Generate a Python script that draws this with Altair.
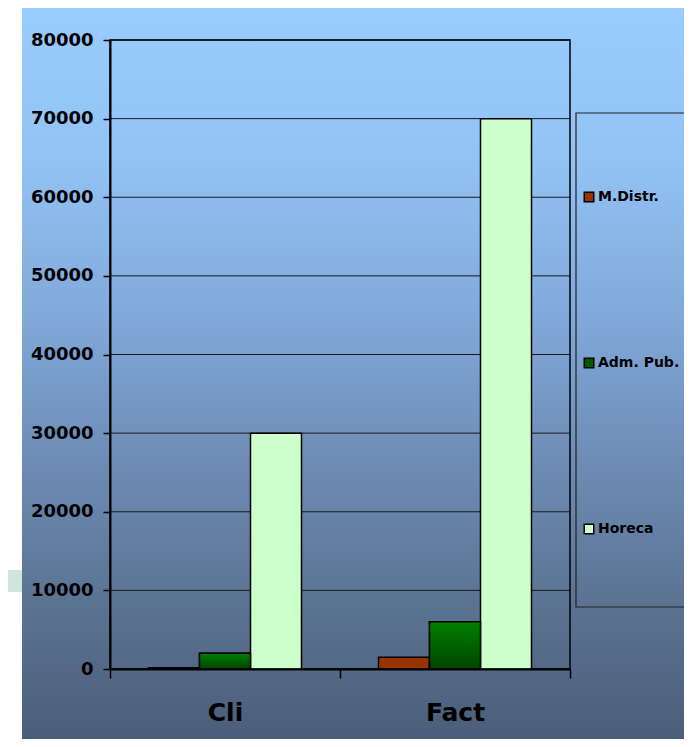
import altair as alt
import pandas as pd

categories = ["Cli", "Fact"]
series = ["M.Distr.", "Adm. Pub.", "Horeca"]
cli_values = [150, 2000, 30000]
fact_values = [1500, 6000, 70000]
y_ticks = [0, 10000, 20000, 30000, 40000, 50000, 60000, 70000, 80000]
series_colors = ["#993300", "#005a00", "#CCFFCC"]

rows = []
for cat, vals in zip(categories, [cli_values, fact_values]):
    for s, v in zip(series, vals):
        rows.append({"category": cat, "series": s, "value": v})
df = pd.DataFrame(rows)
grid_df = pd.DataFrame({"v": y_ticks})
one = pd.DataFrame({"k": [0]})

FONT = "DejaVu Sans"

bg_grad = alt.Gradient(
    gradient="linear", x1=0, x2=0, y1=0, y2=1,
    stops=[
        alt.GradientStop(color="#99CCFF", offset=0),
        alt.GradientStop(color="#93C3F5", offset=0.2),
        alt.GradientStop(color="#82AADC", offset=0.41),
        alt.GradientStop(color="#6E8DB6", offset=0.61),
        alt.GradientStop(color="#5A7291", offset=0.815),
        alt.GradientStop(color="#4A5D78", offset=1),
    ],
)
green_grad = alt.Gradient(
    gradient="linear", x1=0, x2=0, y1=0, y2=1,
    stops=[
        alt.GradientStop(color="#008000", offset=0),
        alt.GradientStop(color="#004400", offset=1),
    ],
)

background = alt.Chart(one).mark_rect(fill=bg_grad, strokeWidth=0).encode(
    x=alt.value(-88), x2=alt.value(600), y=alt.value(-34), y2=alt.value(707)
)
deco = alt.Chart(one).mark_rect(fill="#D0E5DC", strokeWidth=0).encode(
    x=alt.value(-102), x2=alt.value(-88), y=alt.value(530), y2=alt.value(552)
)

yscale = alt.Scale(domain=[0, 80000], nice=False)

grid = alt.Chart(grid_df).mark_rule(color="#1a1a1a", strokeWidth=1).encode(
    y=alt.Y("v:Q", scale=yscale)
)

frame = alt.Chart(one).mark_rect(fill=None, stroke="black", strokeWidth=1.5).encode(
    x=alt.value(0), x2=alt.value("width"), y=alt.value(0), y2=alt.value("height")
)

xenc = alt.X(
    "category:N",
    sort=categories,
    scale=alt.Scale(paddingInner=0, paddingOuter=0),
    axis=alt.Axis(
        title=None, labelAngle=0, labelFont=FONT, labelFontWeight="bold",
        labelFontSize=25, labelColor="black", labelPadding=22,
        tickBand="extent", tickSize=9, tickColor="black", tickWidth=1.5,
        domainColor="black", domainWidth=2, grid=False, zindex=1,
    ),
)
yenc = alt.Y(
    "value:Q",
    scale=yscale,
    axis=alt.Axis(
        title=None, values=y_ticks, format="d", labelFont=FONT,
        labelFontWeight="bold", labelFontSize=18, labelColor="black",
        labelPadding=10, tickSize=7, tickColor="black", tickWidth=1.5,
        domainColor="black", domainWidth=2, grid=False, zindex=1,
    ),
)
xoff = alt.XOffset("series:N", sort=series, scale=alt.Scale(paddingInner=0, paddingOuter=0.755))

bars = alt.Chart(df).mark_bar(stroke="black", strokeWidth=1.5).encode(
    x=xenc, xOffset=xoff, y=yenc,
    color=alt.Color(
        "series:N",
        scale=alt.Scale(domain=series, range=series_colors),
        legend=alt.Legend(
            title=None, orient="none", legendX=472, legendY=150,
            symbolType="square", symbolSize=90, symbolStrokeColor="black",
            symbolStrokeWidth=1.5, symbolOpacity=1,
            labelFont=FONT, labelFontWeight="bold", labelFontSize=14,
            labelColor="black", labelOffset=2, rowPadding=150, padding=0,
        ),
    ),
)
adm = alt.Chart(df).transform_filter(alt.datum.series == "Adm. Pub.").mark_bar(
    fill=green_grad, stroke="black", strokeWidth=1.5
).encode(x=xenc, xOffset=xoff, y=yenc)

legend_box = alt.Chart(one).mark_rect(fill=None, stroke="#222222", strokeWidth=1.2).encode(
    x=alt.value(466), x2=alt.value(620), y=alt.value(73), y2=alt.value(567)
)

chart = alt.layer(background, deco, grid, frame, bars, adm, legend_box).properties(
    width=460, height=629,
    autosize=alt.AutoSizeParams(type="none"),
    padding={"left": 102, "top": 32, "right": 114, "bottom": 70},
    background="white",
).configure_view(stroke=None)

chart.save("out.html", embed_options={"renderer": "svg", "actions": False})
